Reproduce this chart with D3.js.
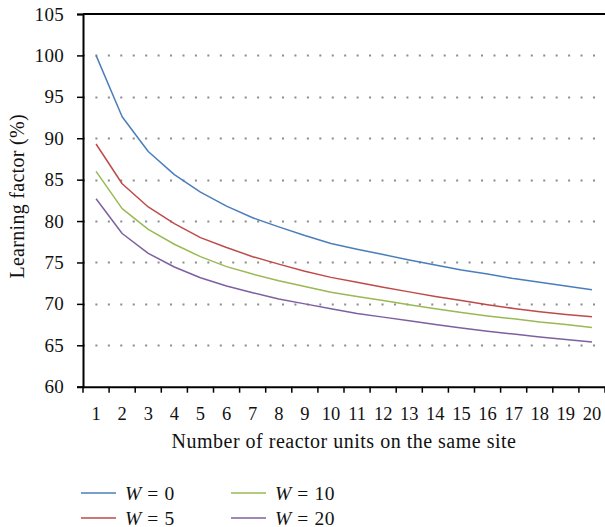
<!DOCTYPE html>
<html>
<head>
<meta charset="utf-8">
<script src="https://cdn.jsdelivr.net/npm/d3@7"></script>
<style>
  html, body { margin: 0; padding: 0; background: #fff; }
  svg { display: block; }
  text { font-family: "Liberation Serif", "DejaVu Serif", serif; fill: #111; }
</style>
</head>
<body>
<svg id="chart" width="605" height="527"></svg>
<script>
// Number of reactor units on the same site
const units = d3.range(1, 21);

// Learning factor (%) for each weighting W
const w0  = [100, 92.6, 88.4, 85.6, 83.5, 81.8, 80.4, 79.3, 78.25, 77.3, 76.6, 75.95, 75.3, 74.7, 74.1, 73.6, 73.05, 72.6, 72.15, 71.7];
const w5  = [89.3, 84.5, 81.7, 79.7, 78.0, 76.8, 75.7, 74.8, 73.95, 73.2, 72.6, 72.0, 71.45, 70.9, 70.4, 69.9, 69.45, 69.05, 68.72, 68.45];
const w10 = [86.0, 81.5, 79.0, 77.2, 75.7, 74.5, 73.6, 72.8, 72.1, 71.4, 70.9, 70.4, 69.9, 69.4, 68.95, 68.55, 68.2, 67.8, 67.5, 67.15];
const w20 = [82.7, 78.5, 76.1, 74.45, 73.15, 72.15, 71.35, 70.6, 70.0, 69.4, 68.85, 68.4, 67.95, 67.5, 67.1, 66.7, 66.35, 66.0, 65.7, 65.4];

const seriesNames = ["0", "5", "10", "20"];
const seriesValues = [w0, w5, w10, w20];
const seriesColors = ["#4a7ebb", "#be4b48", "#98b954", "#7d60a0"];

const yTicks = d3.range(60, 106, 5);

const svg = d3.select("#chart");
const plotLeft = 83, plotRight = 605, plotTop = 14, plotBottom = 386.7;

const x = d3.scaleBand().domain(units).range([plotLeft, plotRight]).padding(0);
const y = d3.scaleLinear().domain([60, 105]).range([plotBottom, plotTop]);

// Dotted horizontal gridlines
svg.append("g")
  .selectAll("line")
  .data(yTicks.filter(v => v > 60 && v < 105))
  .join("line")
  .attr("x1", plotLeft + 1).attr("x2", plotRight)
  .attr("y1", d => Math.round(y(d)) + 0.5).attr("y2", d => Math.round(y(d)) + 0.5)
  .attr("stroke", "#8c8c8c")
  .attr("stroke-width", 2)
  .attr("stroke-dasharray", "2,10.44")
  .attr("stroke-dashoffset", -11.4);

// Top border of the plot area
svg.append("line")
  .attr("x1", plotLeft).attr("x2", plotRight)
  .attr("y1", y(105)).attr("y2", y(105))
  .attr("stroke", "#000").attr("stroke-width", 2);

// Y axis
const yAxis = svg.append("g")
  .attr("transform", `translate(${plotLeft},0)`)
  .call(d3.axisLeft(y).tickValues(yTicks).tickSize(6).tickPadding(13))
  .call(g => g.select(".domain").attr("stroke", "#000").attr("stroke-width", 2))
  .call(g => g.selectAll(".tick line").attr("stroke", "#000").attr("stroke-width", 1.5));
yAxis.selectAll(".tick text")
  .style("font-family", '"Liberation Serif", serif')
  .style("font-size", "19px")
  .style("letter-spacing", "0.3px")
  .attr("fill", "#111");

// X axis: line, boundary ticks and centred category labels
const xAxis = svg.append("g")
  .attr("transform", `translate(0,${plotBottom})`)
  .call(d3.axisBottom(x).tickSize(0).tickPadding(20.5))
  .call(g => g.select(".domain").attr("stroke", "#000").attr("stroke-width", 2));
xAxis.selectAll(".tick text")
  .style("font-family", '"Liberation Serif", serif')
  .style("font-size", "18.5px")
  .attr("fill", "#111");
xAxis.append("g")
  .selectAll("line")
  .data(units.map(u => x(u)).concat([x(units[units.length - 1]) + x.bandwidth()]))
  .join("line")
  .attr("x1", d => d).attr("x2", d => d)
  .attr("y1", 0).attr("y2", 6)
  .attr("stroke", "#000").attr("stroke-width", 1.5);

// Axis titles
svg.append("text")
  .attr("x", (plotLeft + plotRight) / 2)
  .attr("y", 448)
  .attr("text-anchor", "middle")
  .style("font-size", "20px")
  .style("letter-spacing", "0.5px")
  .text("Number of reactor units on the same site");

svg.append("text")
  .attr("transform", `translate(24,${(plotTop + plotBottom) / 2 - 4}) rotate(-90)`)
  .attr("text-anchor", "middle")
  .style("font-size", "20px")
  .style("letter-spacing", "0.3px")
  .text("Learning factor (%)");

// Series lines
const line = d3.line()
  .x((d, i) => x(units[i]) + x.bandwidth() / 2)
  .y(d => y(d));

svg.append("g")
  .selectAll("path")
  .data(seriesValues)
  .join("path")
  .attr("d", d => line(d))
  .attr("fill", "none")
  .attr("stroke", (d, i) => seriesColors[i])
  .attr("stroke-width", 1.5)
  .attr("stroke-linejoin", "round");

// Legend
const legendPos = [[81, 493], [81, 518], [231, 493], [231, 518]];
const legend = svg.append("g")
  .selectAll("g")
  .data(seriesNames)
  .join("g")
  .attr("transform", (d, i) => `translate(${legendPos[i][0]},${legendPos[i][1]})`);
legend.append("line")
  .attr("x1", 0).attr("x2", 35)
  .attr("y1", 0).attr("y2", 0)
  .attr("stroke", (d, i) => seriesColors[i])
  .attr("stroke-width", 1.5);
const lt = legend.append("text")
  .attr("x", 44).attr("y", 6.5)
  .style("font-size", "19.5px")
  .style("letter-spacing", "0.6px");
lt.append("tspan").style("font-style", "italic").text("W");
lt.append("tspan").text(d => " = " + d);
</script>
</body>
</html>
